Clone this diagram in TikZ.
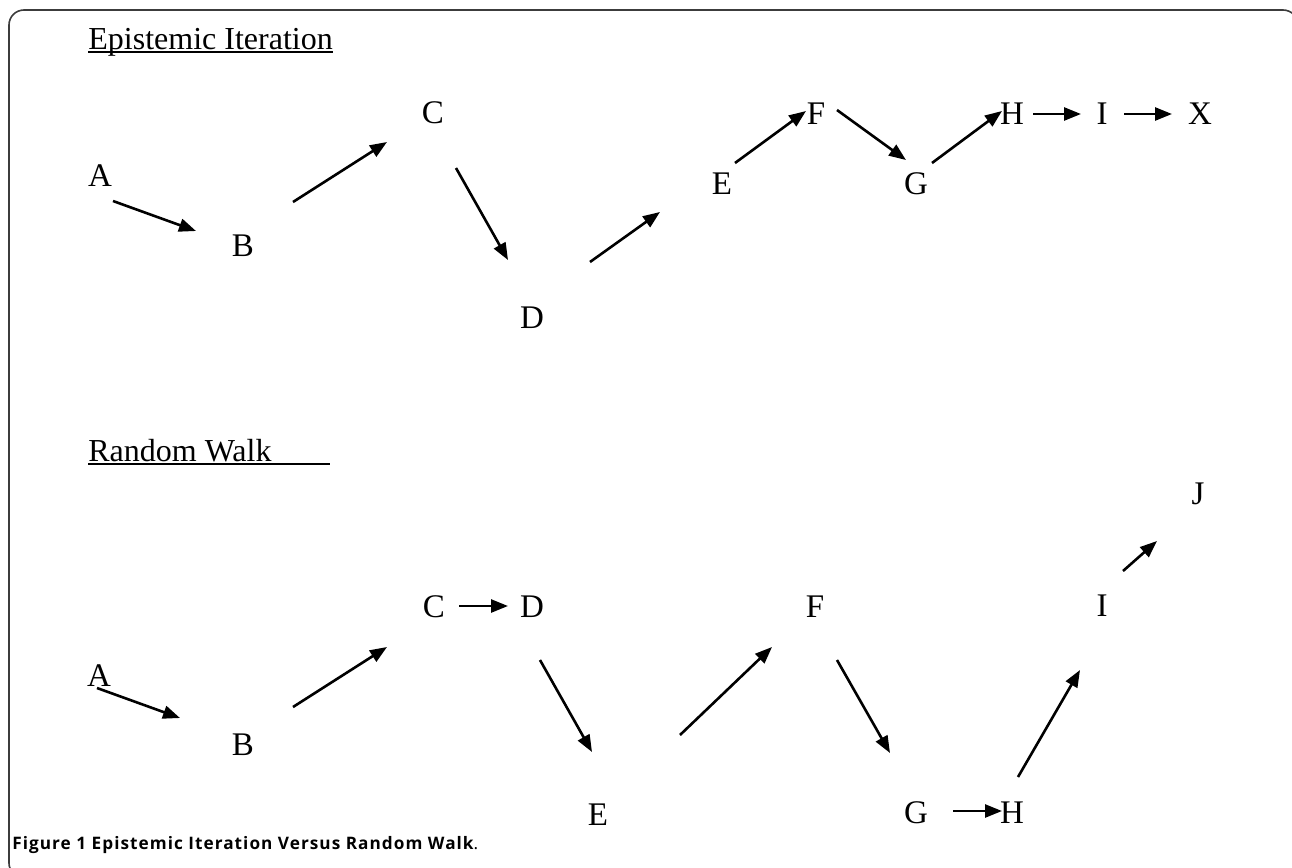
\documentclass[tikz,border=0pt]{standalone}
\usepackage{fontspec}
\setmainfont{Liberation Serif}
\newfontfamily\capfont{Open Sans}[LetterSpace=6]
\usetikzlibrary{arrows.meta}
\definecolor{framegray}{RGB}{60,60,60}
\tikzset{
  letter/.style  = {inner sep=0pt, font=\fontsize{16.5}{20}\selectfont},
  title/.style   = {inner sep=0pt, anchor=base west, font=\fontsize{16}{20}\selectfont},
  uline/.style   = {line width=0.75pt},
  arrow/.style   = {-{Triangle[length=8.5pt,width=6.5pt]}, line width=1.3pt},
  frame/.style   = {draw=framegray, line width=0.8pt, rounded corners=7.5pt},
  caption/.style = {inner sep=0pt, anchor=base west,
                    font=\capfont\fontsize{8.6}{10}\selectfont\bfseries},
}

\begin{document}
\begin{tikzpicture}[x=0.5pt, y=-0.5pt]
  \useasboundingbox (0,0) rectangle (1292,868);
  \begin{scope}
    \clip (0,0) rectangle (1292,868);
    \draw[frame] (9,10) rectangle (1298,878);
  \end{scope}

  % epistemic iteration
  \node[title] (etitle) at (88,49) {Epistemic Iteration};
  \draw[uline] ([yshift=-1.5pt]etitle.base west) -- ([yshift=-1.5pt]etitle.base east);
  \node[letter] (eA) at (100,176) {A};
  \node[letter] (eB) at (243,246) {B};
  \node[letter] (eC) at (433,113) {C};
  \node[letter] (eD) at (532,318) {D};
  \node[letter] (eE) at (722,184) {E};
  \node[letter] (eF) at (816,114) {F};
  \node[letter] (eG) at (916,184) {G};
  \node[letter] (eH) at (1012,114) {H};
  \node[letter] (eI) at (1102,114) {I};
  \node[letter] (eX) at (1200,114) {X};
  \draw[arrow] ([shift={(13,25)}]eA.center) -- ([shift={(-47,-15)}]eB.center);
  \draw[arrow] ([shift={(50,-44)}]eB.center) -- ([shift={(-46,29)}]eC.center);
  \draw[arrow] ([shift={(23,55)}]eC.center) -- ([shift={(-24,-58)}]eD.center);
  \draw[arrow] ([shift={(58,-56)}]eD.center) -- ([shift={(-62,28)}]eE.center);
  \draw[arrow] ([shift={(13,-21)}]eE.center) -- ([shift={(-10,-3)}]eF.center);
  \draw[arrow] ([shift={(21,-4)}]eF.center) -- ([shift={(-10,-24)}]eG.center);
  \draw[arrow] ([shift={(16,-21)}]eG.center) -- ([shift={(-10,-3)}]eH.center);
  \draw[arrow] ([shift={(21,0)}]eH.center) -- ([shift={(-21,0)}]eI.center);
  \draw[arrow] ([shift={(22,0)}]eI.center) -- ([shift={(-28,0)}]eX.center);

  % random walk
  \node[title] (rtitle) at (88,461) {Random Walk\kern29pt};
  \draw[uline] ([yshift=-1.5pt]rtitle.base west) -- ([yshift=-1.5pt]rtitle.base east);
  \node[letter] (rA) at (99,676) {A};
  \node[letter] (rB) at (243,745) {B};
  \node[letter] (rC) at (434,607) {C};
  \node[letter] (rD) at (532,607) {D};
  \node[letter] (rE) at (598,815) {E};
  \node[letter] (rF) at (815,607) {F};
  \node[letter] (rG) at (916,813) {G};
  \node[letter] (rH) at (1012,813) {H};
  \node[letter] (rI) at (1102,606) {I};
  \node[letter] (rJ) at (1198,494) {J};
  \draw[arrow] ([shift={(-2,12)}]rA.center) -- ([shift={(-63,-27)}]rB.center);
  \draw[arrow] ([shift={(50,-38)}]rB.center) -- ([shift={(-47,40)}]rC.center);
  \draw[arrow] ([shift={(25,-1)}]rC.center) -- ([shift={(-24,-1)}]rD.center);
  \draw[arrow] ([shift={(8,53)}]rD.center) -- ([shift={(-6,-63)}]rE.center);
  \draw[arrow] ([shift={(82,-80)}]rE.center) -- ([shift={(-43,40)}]rF.center);
  \draw[arrow] ([shift={(22,53)}]rF.center) -- ([shift={(-26,-60)}]rG.center);
  \draw[arrow] ([shift={(37,-2)}]rG.center) -- ([shift={(-10,-2)}]rH.center);
  \draw[arrow] ([shift={(6,-36)}]rH.center) -- ([shift={(-22,64)}]rI.center);
  \draw[arrow] ([shift={(21,-35)}]rI.center) -- ([shift={(-41,47)}]rJ.center);

  \node[caption] (cap) at (12,849)
    {Figure 1 Epistemic Iteration Versus Random Walk{\mdseries.}};
\end{tikzpicture}
\end{document}
